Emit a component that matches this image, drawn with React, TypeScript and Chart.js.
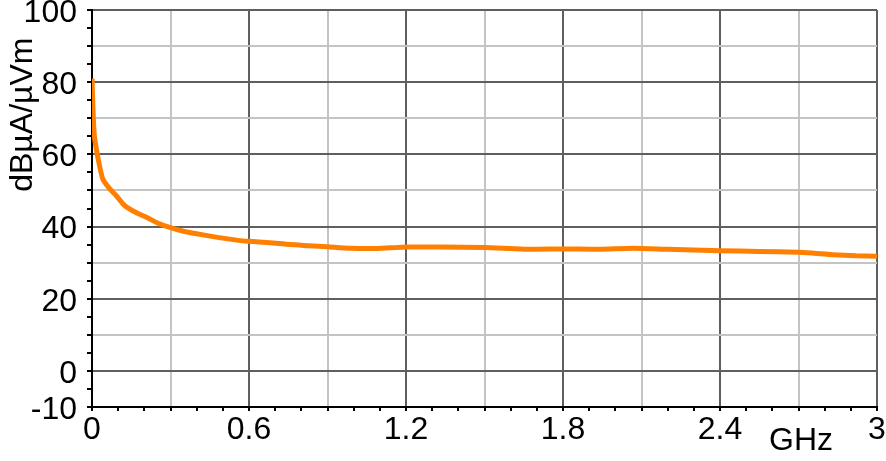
import React, { useEffect, useRef } from "react";
import { Chart, registerables } from "chart.js";

Chart.register(...registerables);

// Frequency in GHz and measured level in dBµA/µVm
const freqGHz = [0.0, 0.004, 0.008, 0.012, 0.022, 0.041, 0.067, 0.092, 0.117, 0.134, 0.17, 0.21, 0.25, 0.30, 0.35, 0.40, 0.48, 0.566, 0.6, 0.68, 0.757, 0.83, 0.9, 0.986, 1.075, 1.14, 1.2, 1.33, 1.5, 1.6, 1.674, 1.8, 1.94, 2.07, 2.2, 2.4, 2.55, 2.7, 2.76, 2.83, 2.92, 3.0];
const levelDb = [81.0, 72.0, 66.0, 63.5, 59.3, 53.2, 50.5, 48.6, 46.4, 45.3, 43.8, 42.5, 41.0, 39.7, 38.7, 38.0, 37.0, 36.1, 35.9, 35.5, 35.0, 34.7, 34.4, 34.0, 33.9, 34.1, 34.3, 34.3, 34.2, 33.9, 33.7, 33.8, 33.7, 34.0, 33.7, 33.3, 33.1, 32.9, 32.6, 32.2, 31.9, 31.8];

const yTickLabels = [-10, 0, 20, 40, 60, 80, 100];
const xTickLabels = [0, 0.6, 1.2, 1.8, 2.4, 3];

const yTitle = "dBµA/µVm";
const xUnit = "GHz";

const FONT = "'Liberation Sans', Arial, sans-serif";
const FS = 32;
const DARK = "#5f5f5f";
const LIGHT = "#c4c4c4";

const near = (v: number, step: number) => Math.abs(v / step - Math.round(v / step)) < 1e-6;

export default function App() {
  const ref = useRef<HTMLCanvasElement | null>(null);

  useEffect(() => {
    const canvas = ref.current;
    if (!canvas) return;

    const textPlugin = {
      id: "extraText",
      afterDraw(chart: any) {
        const { ctx, chartArea, scales } = chart;
        ctx.save();
        ctx.fillStyle = "#000";
        ctx.font = `${FS}px ${FONT}`;
        ctx.textAlign = "center";
        ctx.textBaseline = "middle";
        // unit label under the x axis
        const gx = scales.x.getPixelForValue(2.71);
        ctx.fillText(xUnit, gx, chartArea.bottom + 34);
        // rotated y title
        ctx.translate(23, scales.y.getPixelForValue(71));
        ctx.rotate(-Math.PI / 2);
        ctx.fillText(yTitle, 0, 0);
        ctx.restore();
      },
    };

    const chart = new Chart(canvas, {
      type: "line",
      data: {
        datasets: [
          {
            data: freqGHz.map((f, i) => ({ x: f, y: levelDb[i] })),
            borderColor: "#ff8000",
            backgroundColor: "#ff8000",
            borderWidth: 5,
            pointRadius: 0,
            tension: 0.2,
            fill: false,
          },
        ],
      },
      options: {
        responsive: false,
        animation: false,
        layout: { padding: { top: 10, right: 9, left: 0, bottom: 0 } },
        plugins: {
          legend: { display: false },
          tooltip: { enabled: false },
          title: { display: false },
        },
        scales: {
          x: {
            type: "linear",
            min: 0,
            max: 3,
            ticks: {
              stepSize: 0.1,
              autoSkip: false,
              maxRotation: 0,
              padding: 0,
              color: "#000",
              font: { family: FONT, size: FS },
              callback: (v: any) => {
                const n = Number(v);
                const hit = xTickLabels.find((t) => Math.abs(t - n) < 1e-6);
                return hit !== undefined ? String(hit) : "";
              },
            },
            grid: {
              color: (c: any) => {
                const v = c.tick ? c.tick.value : 0;
                if (near(v, 0.6)) return DARK;
                if (near(v, 0.3)) return LIGHT;
                return "rgba(0,0,0,0)";
              },
              lineWidth: 2,
              tickColor: "#000",
              tickLength: 4,
              drawTicks: true,
            },
            border: { display: true, color: "#000", width: 2 },
            afterFit: (s: any) => {
              s.height = 54;
              s.paddingLeft = 0;
              s.paddingRight = 0;
            },
          },
          y: {
            type: "linear",
            min: -10,
            max: 100,
            ticks: {
              stepSize: 5,
              autoSkip: false,
              padding: 10,
              labelOffset: 3,
              color: "#000",
              font: { family: FONT, size: FS },
              callback: (v: any) => {
                const n = Number(v);
                return yTickLabels.includes(n) ? String(n) : "";
              },
            },
            grid: {
              color: (c: any) => {
                const v = c.tick ? c.tick.value : 0;
                if (v === -10) return "rgba(0,0,0,0)";
                if (near(v, 20)) return DARK;
                if (near(v, 10)) return LIGHT;
                return "rgba(0,0,0,0)";
              },
              lineWidth: 2,
              tickColor: "#000",
              tickLength: 5,
              drawTicks: true,
            },
            border: { display: true, color: "#000", width: 2 },
            afterFit: (s: any) => {
              s.width = 92;
              s.paddingTop = 0;
              s.paddingBottom = 0;
            },
          },
        },
      },
      plugins: [textPlugin],
    } as any);

    return () => chart.destroy();
  }, []);

  return (
    <div style={{ position: "fixed", left: 0, top: 0, width: 886, height: 461, background: "#fff" }}>
      <canvas ref={ref} width={886} height={461} style={{ display: "block" }} />
    </div>
  );
}
